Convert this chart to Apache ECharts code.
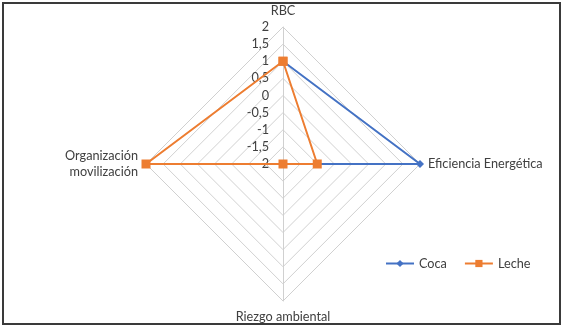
<!DOCTYPE html>
<html><head><meta charset="utf-8">
<script src="https://cdn.jsdelivr.net/npm/echarts@6/dist/echarts.min.js"></script>
<style>html,body{margin:0;padding:0;background:#fff}#c{width:567px;height:330px}</style>
</head><body><div id="c"></div>
<script>
const categories = ['RBC', 'Eficiencia Energética', 'Riezgo ambiental', 'Organización movilización'];
const coca = [1, 2, -2, null];
const leche = [1, -1, -2, 2];
const tickValues = [-2, -1.5, -1, -0.5, 0, 0.5, 1, 1.5, 2];
const seriesNames = ['Coca', 'Leche'];

// each point: [value, category index]; closing point uses index n (= full turn)
function toPolar(vals) {
  const pts = [];
  let complete = true;
  for (let i = 0; i < vals.length; i++) {
    if (vals[i] === null) { complete = false; break; }
    pts.push([vals[i], i]);
  }
  if (complete) pts.push([vals[0], vals.length]);
  return pts;
}

// radar places indicators counter-clockwise starting at top
const radarOrder = [0, 3, 2, 1];
const nameMap = {'Organización movilización': 'Organización\nmovilización'};

const cx = 283, cy = 164, R = 137;
const FS = 12.7;
const chart = echarts.init(document.getElementById('c'));
chart.setOption({
  animation: false,
  textStyle: {fontFamily: 'Lato'},
  graphic: [{type: 'rect', shape: {x: 3, y: 3, width: 557, height: 321}, style: {fill: 'none', stroke: '#3a3a3a', lineWidth: 2}, z: -1}],
  radar: {
    center: [cx, cy], radius: R, startAngle: 90, shape: 'polygon', splitNumber: 8,
    indicator: radarOrder.map(i => ({name: categories[i], min: tickValues[0], max: tickValues[tickValues.length - 1]})),
    axisName: {color: '#404040', fontSize: FS, fontFamily: 'Lato', lineHeight: 16, formatter: n => nameMap[n] || n},
    nameGap: 8,
    axisLine: {lineStyle: {color: '#d0d0d0', width: 1}},
    splitLine: {lineStyle: {color: '#d0d0d0', width: 1}},
    splitArea: {show: false},
    axisTick: {show: false},
    axisLabel: {show: false}
  },
  polar: {center: [cx, cy], radius: R},
  angleAxis: {
    type: 'value', min: 0, max: categories.length, startAngle: 90, clockwise: true,
    axisLine: {show: false}, axisTick: {show: false}, axisLabel: {show: false}, splitLine: {show: false}
  },
  radiusAxis: {
    type: 'value', min: tickValues[0], max: tickValues[tickValues.length - 1], interval: 0.5,
    axisLine: {show: false}, axisTick: {show: false}, splitLine: {show: false},
    axisLabel: {color: '#404040', fontSize: FS, fontFamily: 'Lato', margin: 14,
      formatter: v => String(v).replace('.', ',')}
  },
  legend: {
    data: seriesNames, left: 380, top: 252, itemWidth: 28, itemHeight: 9, itemGap: 17,
    textStyle: {color: '#404040', fontSize: FS, fontFamily: 'Lato'}
  },
  series: [
    {name: 'Coca', type: 'line', coordinateSystem: 'polar', clip: false, data: toPolar(coca),
     symbol: 'diamond', symbolSize: 8, color: '#4472C4', lineStyle: {width: 2, color: '#4472C4'}, itemStyle: {color: '#4472C4'}, z: 2},
    {name: 'Leche', type: 'line', coordinateSystem: 'polar', clip: false, data: toPolar(leche),
     symbol: 'rect', symbolSize: 9, color: '#ED7D31', lineStyle: {width: 2, color: '#ED7D31'}, itemStyle: {color: '#ED7D31'}, z: 3}
  ]
});
</script></body></html>
